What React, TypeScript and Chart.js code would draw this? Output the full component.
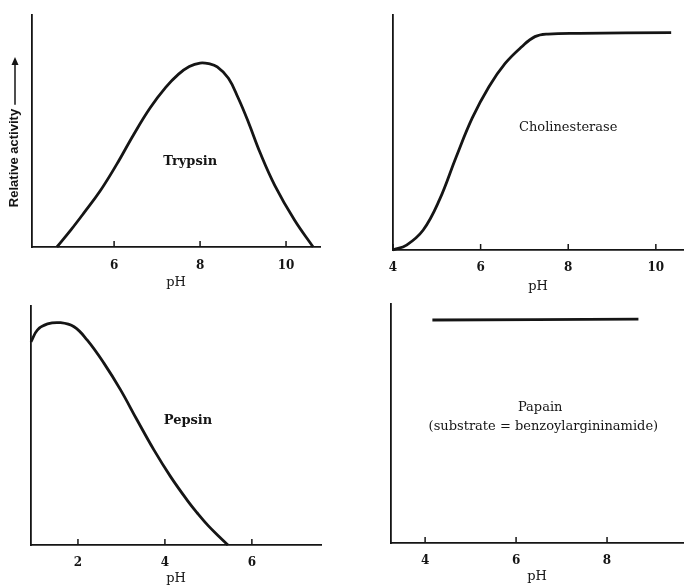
import React, { useEffect, useRef } from "react";
import { Chart, registerables } from "chart.js";

Chart.register(...registerables);

const INK = "#151515";
const SERIF = '"DejaVu Serif", serif';
const SANS = '"Liberation Sans", Arial, sans-serif';

// ---- Data (pH vs relative activity, 0–100) ----
const trypsinPH = [4.67, 5.0, 5.29, 5.67, 6.06, 6.45, 6.84, 7.2, 7.5, 7.75, 8.0, 8.2, 8.4, 8.66, 8.89, 9.12, 9.4, 9.74, 10.2, 10.63];
const trypsinAct = [0, 7.5, 14.5, 24, 35.6, 48.3, 60, 68.8, 74.5, 77.8, 79.3, 79.0, 77.6, 72.7, 64.1, 54.0, 40.5, 26.5, 11.5, 0];
const trypsinTicks = [6, 8, 10];

const cholPH = [4.0, 4.31, 4.69, 5.06, 5.44, 5.81, 6.19, 6.56, 6.94, 7.24, 7.54, 8.26, 10.35];
const cholAct = [0, 2.1, 8.5, 21.3, 39.5, 56.2, 69.5, 79.4, 86.5, 90.8, 91.9, 92.2, 92.5];
const cholTicks = [4, 6, 8, 10];

const pepsinPH = [0.92, 1.07, 1.3, 1.6, 1.91, 2.21, 2.6, 2.98, 3.36, 3.75, 4.13, 4.51, 4.74, 5.0, 5.25, 5.45];
const pepsinAct = [85, 90, 92.5, 93, 91.3, 85.8, 76, 64.9, 52.3, 39.7, 28.6, 18.8, 13.5, 8, 3.5, 0];
const pepsinTicks = [2, 4, 6];

const papainPH = [4.16, 8.69];
const papainAct = [93.3, 93.7];
const papainTicks = [4, 6, 8];

const xTitle = "pH";
const yTitle = "Relative activity";

type Label = { text: string; x: number; y: number; bold?: boolean };

type Panel = {
  left: number; top: number; w: number; h: number;
  pad: { left: number; top: number; right: number };
  xAxisH: number; tickPad: number; titlePad: number;
  xmin: number; xmax: number;
  ph: number[]; act: number[]; ticks: number[];
  labels: Label[];
  yLabel?: boolean;
};

const panels: Panel[] = [
  {
    left: 0, top: 0, w: 346, h: 295,
    pad: { left: 32, top: 15, right: 26 }, xAxisH: 48, tickPad: 4, titlePad: 6,
    xmin: 4.09, xmax: 10.79, ph: trypsinPH, act: trypsinAct, ticks: trypsinTicks,
    labels: [{ text: "Trypsin", x: 7.77, y: 36.6, bold: true }],
    yLabel: true,
  },
  {
    left: 346, top: 0, w: 346, h: 295,
    pad: { left: 47, top: 15, right: 9 }, xAxisH: 45, tickPad: 3, titlePad: 2,
    xmin: 4.0, xmax: 10.62, ph: cholPH, act: cholAct, ticks: cholTicks,
    labels: [{ text: "Cholinesterase", x: 8.0, y: 51.9 }],
  },
  {
    left: 0, top: 295, w: 346, h: 291,
    pad: { left: 31, top: 11, right: 25 }, xAxisH: 41, tickPad: 3, titlePad: 0.5,
    xmin: 0.92, xmax: 7.59, ph: pepsinPH, act: pepsinAct, ticks: pepsinTicks,
    labels: [{ text: "Pepsin", x: 4.53, y: 51.9, bold: true }],
  },
  {
    left: 346, top: 295, w: 346, h: 291,
    pad: { left: 45, top: 9, right: 9 }, xAxisH: 43, tickPad: 3, titlePad: 3,
    xmin: 3.25, xmax: 9.67, ph: papainPH, act: papainAct, ticks: papainTicks,
    labels: [
      { text: "Papain", x: 6.53, y: 56.5 },
      { text: "(substrate = benzoylargininamide)", x: 6.6, y: 48.5 },
    ],
  },
];

const decorPlugin = {
  id: "decor",
  afterDraw(chart: any, _args: any, opts: any) {
    const p: Panel = opts.panel;
    const ctx = chart.ctx;
    const xs = chart.scales.x;
    const ys = chart.scales.y;
    const area = chart.chartArea;
    ctx.save();
    ctx.strokeStyle = INK;
    ctx.lineWidth = 1.5;
    for (const t of xs.ticks) {
      const px = xs.getPixelForValue(t.value);
      ctx.beginPath();
      ctx.moveTo(px, area.bottom);
      ctx.lineTo(px, area.bottom - 6);
      ctx.stroke();
    }
    ctx.fillStyle = INK;
    ctx.textAlign = "center";
    ctx.textBaseline = "middle";
    for (const l of p.labels) {
      ctx.font = `${l.bold ? "bold " : ""}13px ${SERIF}`;
      ctx.fillText(l.text, xs.getPixelForValue(l.x), ys.getPixelForValue(l.y));
    }
    if (p.yLabel) {
      const cx = 14;
      const textCenterY = 158;
      ctx.save();
      ctx.translate(cx, textCenterY);
      ctx.rotate(-Math.PI / 2);
      ctx.font = `bold 13px ${SANS}`;
      ctx.fillText(yTitle, 0, 0);
      const tw = ctx.measureText(yTitle).width;
      ctx.restore();
      const ax = cx + 1;
      const y0 = textCenterY - tw / 2 - 4;
      const y1 = 57;
      ctx.lineWidth = 1.5;
      ctx.beginPath();
      ctx.moveTo(ax, y0);
      ctx.lineTo(ax, y1 + 2);
      ctx.stroke();
      ctx.beginPath();
      ctx.moveTo(ax, y1);
      ctx.lineTo(ax - 3.5, y1 + 8);
      ctx.lineTo(ax + 3.5, y1 + 8);
      ctx.closePath();
      ctx.fill();
    }
    ctx.restore();
  },
};

function ChartPanel({ p }: { p: Panel }) {
  const ref = useRef<HTMLCanvasElement | null>(null);
  useEffect(() => {
    if (!ref.current) return;
    const chart = new Chart(ref.current, {
      type: "line",
      data: {
        datasets: [
          {
            data: p.ph.map((x, i) => ({ x, y: p.act[i] })),
            borderColor: INK,
            borderWidth: 2.8,
            pointRadius: 0,
            tension: 0.4,
            fill: false,
            clip: false,
          } as any,
        ],
      },
      options: {
        animation: false,
        responsive: false,
        events: [],
        layout: { padding: { left: p.pad.left, top: p.pad.top, right: p.pad.right, bottom: 0 } },
        plugins: {
          legend: { display: false },
          tooltip: { enabled: false },
          decor: { panel: p },
        } as any,
        scales: {
          x: {
            type: "linear",
            min: p.xmin,
            max: p.xmax,
            afterBuildTicks: (s: any) => {
              s.ticks = p.ticks.map((v) => ({ value: v }));
            },
            afterFit: (s: any) => {
              s.height = p.xAxisH;
            },
            grid: { display: false },
            border: { display: true, color: INK, width: 1.8 },
            ticks: {
              color: INK,
              font: { family: SERIF, size: 12, weight: "bold" },
              padding: p.tickPad,
              maxRotation: 0,
              autoSkip: false,
              callback: (v: any) => String(v),
            },
            title: {
              display: true,
              text: xTitle,
              color: INK,
              font: { family: SERIF, size: 13, lineHeight: 1 },
              padding: { top: 0, bottom: p.titlePad },
            },
          },
          y: {
            type: "linear",
            min: 0,
            max: 100,
            afterFit: (s: any) => {
              s.width = 0;
            },
            grid: { display: false },
            border: { display: true, color: INK, width: 1.8 },
            ticks: { display: false },
          },
        },
      } as any,
      plugins: [decorPlugin as any],
    });
    return () => chart.destroy();
  }, [p]);
  return (
    <canvas
      ref={ref}
      width={p.w}
      height={p.h}
      style={{ position: "absolute", left: p.left, top: p.top, width: p.w, height: p.h }}
    />
  );
}

export default function App() {
  return (
    <div style={{ position: "fixed", left: 0, top: 0, width: 692, height: 586, background: "#fff" }}>
      {panels.map((p, i) => (
        <ChartPanel key={i} p={p} />
      ))}
    </div>
  );
}
